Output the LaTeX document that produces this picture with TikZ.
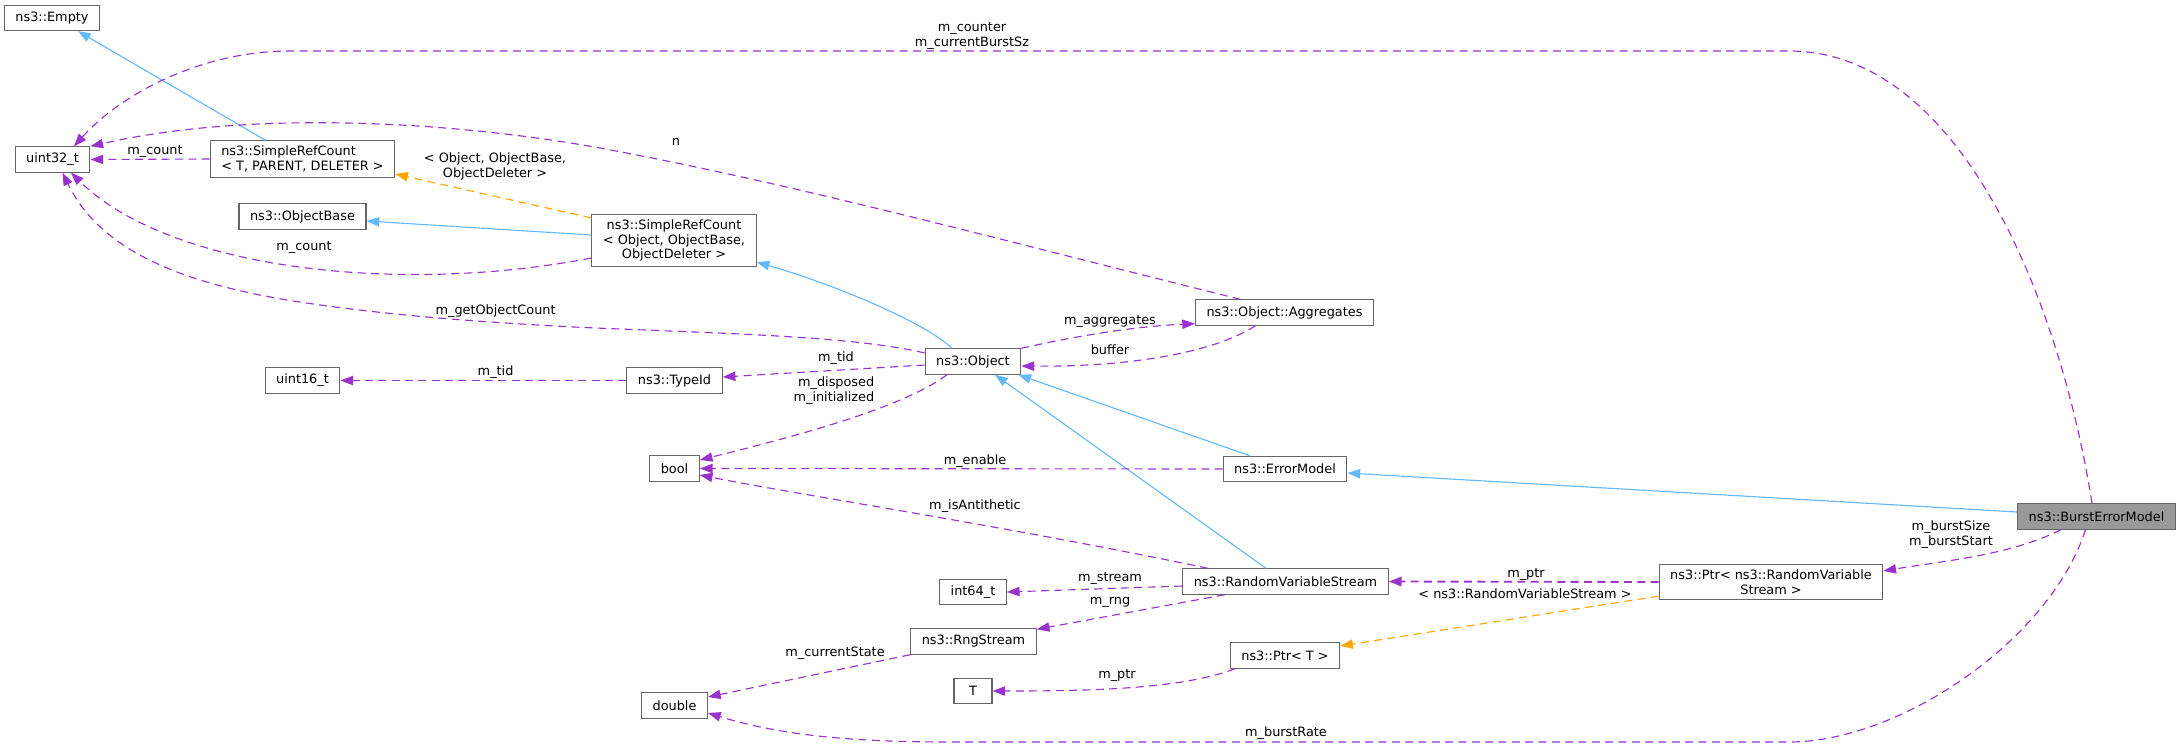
\documentclass[tikz,border=0pt]{standalone}
\usepackage{fontspec}
\setmainfont{DejaVu Sans}
\usetikzlibrary{arrows.meta,calc}
\definecolor{purp}{HTML}{9A32CD}
\definecolor{inh}{HTML}{63B8FF}
\definecolor{tmpl}{HTML}{FFA500}
\definecolor{bord}{HTML}{666666}
\definecolor{mainfill}{HTML}{999999}
\begin{document}
\begin{tikzpicture}[x=0.75pt,y=-0.75pt,
  box/.style={draw=bord,line width=0.8pt,fill=white,font=\fontsize{9.64pt}{10.9pt}\selectfont,
    inner xsep=8.3pt,inner ysep=4pt,minimum height=19pt,minimum width=28.5pt,align=center},
  mainbox/.style={box,fill=mainfill},
  lbl/.style={font=\fontsize{9.64pt}{11.25pt}\selectfont,inner sep=0pt,align=center},
  tipA/.style={-{Triangle[length=9.5pt,width=7pt]}},
  useedge/.style={draw=purp,line width=0.85pt,dash pattern=on 6pt off 4pt,tipA},
  inhedge/.style={draw=inh,line width=0.85pt,tipA},
  tmpledge/.style={draw=tmpl,line width=0.85pt,dash pattern=on 6pt off 4pt,tipA}
]
\useasboundingbox (0,0) rectangle (2181,747);

% nodes
\node[box] (empty) at (52,18) {ns3::Empty};
\node[box] (uint32) at (52.5,159.5) {uint32\_t};
\node[box,align=left] (srcT) at (302.5,159) {ns3::SimpleRefCount\\< T, PARENT, DELETER >};
\node[box] (objbase) at (302.5,216.5) {ns3::ObjectBase};
\node[box] (srcO) at (674,240.5) {ns3::SimpleRefCount\\< Object, ObjectBase,\\ObjectDeleter >};
\node[box] (aggr) at (1284.5,312.5) {ns3::Object::Aggregates};
\node[box] (object) at (973,361.5) {ns3::Object};
\node[box] (typeid) at (674.5,380.5) {ns3::TypeId};
\node[box] (uint16) at (302.5,380.5) {uint16\_t};
\node[box] (bool) at (674.5,468.5) {bool};
\node[box] (errmodel) at (1285,469) {ns3::ErrorModel};
\node[mainbox] (burst) at (2096.5,516.5) {ns3::BurstErrorModel};
\node[box] (rvs) at (1285.5,581.5) {ns3::RandomVariableStream};
\node[box] (ptrrvs) at (1771,582) {ns3::Ptr< ns3::RandomVariable\\Stream >};
\node[box] (int64) at (973,592) {int64\_t};
\node[box] (rng) at (973.5,641.5) {ns3::RngStream};
\node[box] (ptrT) at (1285,655.5) {ns3::Ptr< T >};
\node[box] (T) at (973,691) {T};
\node[box] (double) at (674.5,705.5) {double};

% inheritance
\draw[inhedge] ($(srcT.north)+(-37,0)$) -- ($(empty.south)+(26,0)$);
\draw[inhedge] ($(srcO.west)+(0,-5.5)$) -- ($(objbase.east)+(0,4.5)$);
\draw[inhedge] ($(object.north)+(-21,0)$) .. controls (925,322) and (830,283) .. ($(srcO.south east)+(0,-5)$);
\draw[inhedge] ($(errmodel.north)+(-35,0)$) -- ($(object.south east)+(-3,0)$);
\draw[inhedge] ($(rvs.north)+(-19.5,0)$) -- ($(object.south)+(22,0)$);
\draw[inhedge] ($(burst.west)+(0,-4.5)$) -- ($(errmodel.east)+(0,4)$);

% template
\draw[tmpledge] ($(srcO.north west)+(0,4)$) -- ($(srcT.east)+(0,15)$);
\draw[tmpledge] ($(ptrrvs.south west)+(0,-4)$) -- ($(ptrT.east)+(0,-9.5)$);

% usage
\draw[useedge] ($(burst.north)+(-4.5,0)$) .. controls (2060,300) and (1960,51) .. (1789,51) -- (290,51) .. controls (200,51) and (120,95) .. ($(uint32.north)+(21.5,0)$);
\draw[useedge] ($(aggr.north)+(-44,0)$) .. controls (1000,240) and (800,185) .. (600,148) .. controls (450,121) and (250,110) .. (uint32.north east);
\draw[useedge] (srcT.west) -- (uint32.east);
\draw[useedge] ($(srcO.west)+(0,17.5)$) .. controls (400,295) and (170,270) .. ($(uint32.south)+(18.5,0)$);
\draw[useedge] ($(object.west)+(0,-8.5)$) .. controls (850,335) and (700,333) .. (574,327) .. controls (480,322) and (380,315) .. (287,300) .. controls (180,282) and (100,250) .. ($(uint32.south)+(10,0)$);
\draw[useedge] ($(object.west)+(0,3.5)$) -- ($(typeid.east)+(0,-3.5)$);
\draw[useedge] (typeid.west) -- (uint16.east);
\draw[useedge] (object.north east) .. controls (1080,335) and (1140,326) .. ($(aggr.south west)+(0,-2)$);
\draw[useedge] ($(aggr.south)+(-29,0)$) .. controls (1210,355) and (1120,367) .. ($(object.east)+(0,4.5)$);
\draw[useedge] ($(object.south)+(-26,0)$) .. controls (900,410) and (780,440) .. ($(bool.east)+(0,-8.5)$);
\draw[useedge] (errmodel.west) -- (bool.east);
\draw[useedge] ($(rvs.north)+(-77.5,0)$) .. controls (1000,525) and (800,495) .. ($(bool.east)+(0,6.5)$);
\draw[useedge] ($(rvs.west)+(0,4.5)$) -- (int64.east);
\draw[useedge] ($(rvs.south)+(-60.5,0)$) -- ($(rng.north east)+(0,1)$);
\draw[useedge] (rng.south west) -- ($(double.east)+(0,-8.5)$);
\draw[useedge] ($(ptrT.south)+(-50,0)$) .. controls (1180,690) and (1080,691) .. (T.east);
\draw[useedge,line width=1.4pt] (ptrrvs.west) -- (rvs.east);
\draw[useedge] ($(burst.south)+(-35.5,0)$) .. controls (2010,555) and (1950,560) .. ($(ptrrvs.north east)+(0,7)$);
\draw[useedge] ($(burst.south)+(-11,0)$) .. controls (2050,640) and (1900,742) .. (1789,742) -- (950,742) .. controls (850,742) and (780,735) .. ($(double.east)+(0,7.5)$);

% labels
\node[lbl] (l1) at (972,35.5) {m\_counter\\m\_currentBurstSz};
\node[lbl] (l2) at (676,142) {n};
\node[lbl] (l3) at (155,151) {m\_count};
\node[lbl] (l4) at (495,166) {< Object, ObjectBase,\\ObjectDeleter >};
\node[lbl] (l5) at (304,247) {m\_count};
\node[lbl] (l6) at (495.6,311) {m\_getObjectCount};
\node[lbl] (l7) at (1110,321) {m\_aggregates};
\node[lbl] (l8) at (1110,350) {buffer};
\node[lbl] (l9) at (836,358) {m\_tid};
\node[lbl] (l10) at (495.6,372) {m\_tid};
\node[lbl,anchor=east,align=right] (l11) at (874.5,391) {m\_disposed\\m\_initialized};
\node[lbl] (l12) at (975,461) {m\_enable};
\node[lbl] (l13) at (975,506) {m\_isAntithetic};
\node[lbl] (l14) at (1951,534.5) {m\_burstSize\\m\_burstStart};
\node[lbl] (l15) at (1110,578) {m\_stream};
\node[lbl] (l16) at (1526,574) {m\_ptr};
\node[lbl] (l17) at (1525,594) {< ns3::RandomVariableStream >};
\node[lbl] (l18) at (1110,602) {m\_rng};
\node[lbl] (l19) at (835,653) {m\_currentState};
\node[lbl] (l20) at (1117,675) {m\_ptr};
\node[lbl] (l21) at (1286,733) {m\_burstRate};
\end{tikzpicture}
\end{document}
